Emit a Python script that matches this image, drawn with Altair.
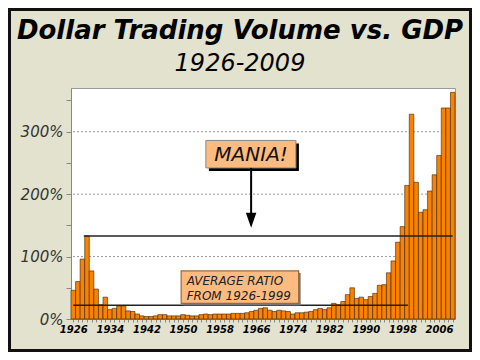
import altair as alt
import pandas as pd

# ---------------- data ----------------
years = list(range(1926, 2010))
ratio_pct = [
    46, 60, 96, 133, 77, 48, 23, 35, 15, 17,      # 1926-1935
    21, 21, 13, 12, 8, 5, 4, 4, 5, 7,             # 1936-1945
    7, 5, 5, 5, 7, 6, 5, 5, 7, 8,                 # 1946-1955
    7, 8, 8, 8, 8, 9, 9, 9, 10, 12,               # 1956-1965
    14, 17, 18, 14, 12, 14, 13, 12, 8, 10,        # 1966-1975
    10, 11, 12, 15, 17, 15, 18, 25, 23, 28,       # 1976-1985
    39, 50, 33, 35, 31, 36, 41, 54, 55, 74,       # 1986-1995
    93, 123, 148, 214, 328, 219, 171, 175, 205, 231,  # 1996-2005
    262, 338, 338, 363,                           # 2006-2009
]
y_tick_values = [0, 0.5, 1, 1.5, 2, 2.5, 3, 3.5]
grid_values = [1, 2, 3]
x_label_step = 8
title_text = "Dollar Trading Volume vs. GDP"
subtitle_text = "1926-2009"
avg_label = ["AVERAGE RATIO", "FROM 1926-1999"]
mania_label = "MANIA!"

# annotation levels / spans (data units)
AVG_LEVEL, AVG_START, AVG_END = 0.22, 1926.0, 1999.2
MANIA_LEVEL, MANIA_START, MANIA_END = 1.33, 1928.3, 2009.0

df = pd.DataFrame({"year": years, "ratio": [v / 100 for v in ratio_pct]})
df["x0"] = df["year"] - 0.5
df["x1"] = df["year"] + 0.5
df["base"] = 0.0

one = pd.DataFrame({"_": [0]})

FONT = "DejaVu Sans"
xscale = alt.Scale(domain=[1925.5, 2009.5], nice=False, zero=False)
yscale = alt.Scale(domain=[0, 3.7], nice=False)

xaxis = alt.Axis(
    values=years,
    labelExpr=f"(datum.value - 1926) % {x_label_step} == 0 ? '' + datum.value : ''",
    labelOverlap=False, title=None, grid=False,
)
yaxis = alt.Axis(
    values=y_tick_values,
    labelExpr="round(datum.value*100) % 100 == 0 ? round(datum.value*100) + '%' : ''",
    labelOverlap=False, title=None, grid=False,
)

def X(v):
    return alt.XDatum(v, scale=xscale, axis=xaxis)

def X2(v):
    return alt.X2Datum(v)

def Y(v):
    return alt.YDatum(v, scale=yscale, axis=yaxis)

def Y2(v):
    return alt.Y2Datum(v)

grid = alt.Chart(pd.DataFrame({"g": grid_values})).mark_rule(
    color="#999", strokeDash=[2, 2], strokeWidth=1
).encode(y=alt.Y("g:Q", scale=yscale, axis=yaxis))

bars = alt.Chart(df).mark_bar(
    color="#F98200", stroke="#3a2400", strokeWidth=0.6
).encode(
    x=alt.X("x0:Q", scale=xscale, axis=xaxis),
    x2="x1",
    y=alt.Y("ratio:Q", scale=yscale, axis=yaxis),
    y2="base",
)

def hline(level, x_start, x_end):
    return alt.Chart(one).mark_rule(color="#222", strokeWidth=1.5).encode(
        x=X(x_start), x2=X2(x_end), y=Y(level)
    )

avg_line = hline(AVG_LEVEL, AVG_START, AVG_END)
mania_line = hline(MANIA_LEVEL, MANIA_START, MANIA_END)

# average ratio box
avg_shadow = alt.Chart(one).mark_rect(
    color="#777", xOffset=2, x2Offset=2, yOffset=2, y2Offset=2
).encode(x=X(1949.6), x2=X2(1975.3), y=Y(0.77), y2=Y2(0.25))
avg_box = alt.Chart(one).mark_rect(
    color="#FDBB80", stroke="#9A6A3A", strokeWidth=1.2
).encode(x=X(1949.6), x2=X2(1975.3), y=Y(0.77), y2=Y2(0.25))
avg_text = alt.Chart(one).mark_text(
    text=avg_label, align="left", baseline="alphabetic", lineHeight=15,
    font=FONT, fontSize=12, fontStyle="italic", color="#222"
).encode(x=X(1950.8), y=Y(0.54))

# mania box
mania_shadow = alt.Chart(one).mark_rect(
    color="#000", xOffset=3, x2Offset=3, yOffset=3, y2Offset=3
).encode(x=X(1955.0), x2=X2(1974.7), y=Y(2.86), y2=Y2(2.42))
mania_box = alt.Chart(one).mark_rect(
    color="#FDBB80", stroke="#888", strokeWidth=1
).encode(x=X(1955.0), x2=X2(1974.7), y=Y(2.86), y2=Y2(2.42))
mania_text = alt.Chart(one).mark_text(
    text=mania_label, align="center", baseline="middle",
    font=FONT, fontSize=20, fontStyle="italic", color="#111"
).encode(x=X(1964.9), y=Y(2.63))

arrow_shaft = alt.Chart(one).mark_rule(color="#000", strokeWidth=2).encode(
    x=X(1964.9), y=Y(2.42), y2=Y2(1.62)
)
arrow_head = alt.Chart(one).mark_point(
    shape="M-0.7,-1L0.7,-1L0,1Z", filled=True, color="#000", opacity=1, size=225
).encode(x=X(1964.9), y=Y(1.58))

title = alt.Chart(one).mark_text(
    text=title_text, align="center", baseline="alphabetic",
    font=FONT, fontSize=26, fontWeight="bold", fontStyle="italic", color="#000"
).encode(x=alt.value(169), y=alt.value(-49))
subtitle = alt.Chart(one).mark_text(
    text=subtitle_text, align="center", baseline="alphabetic",
    font=FONT, fontSize=24, fontStyle="italic", color="#000"
).encode(x=alt.value(169), y=alt.value(-17))

frame = alt.Chart(one).mark_rect(
    filled=False, stroke="#111", strokeWidth=3
).encode(x=alt.value(-61.5), x2=alt.value(399.5), y=alt.value(-78.5), y2=alt.value(262.5))

chart = alt.layer(
    grid, bars, avg_line, mania_line,
    avg_shadow, avg_box, avg_text,
    mania_shadow, mania_box, mania_text,
    arrow_shaft, arrow_head, title, subtitle, frame,
).properties(
    width=384, height=231,
    padding={"left": 63, "top": 80, "right": 17, "bottom": 33},
    autosize=alt.AutoSizeParams(type="none"),
).configure(
    background="#E2E2CE",
).configure_view(
    fill="white", stroke="#999", strokeWidth=1,
).configure_axisX(
    labelFont=FONT, labelFontSize=10, labelFontWeight="bold", labelFontStyle="italic",
    labelColor="#000", labelPadding=2, tickSize=3, tickColor="#888", domainColor="#888",
).configure_axisY(
    labelFont=FONT, labelFontSize=15, labelFontStyle="italic", labelColor="#333",
    labelPadding=3, tickSize=5, tickColor="#888", domainColor="#888",
)

chart.save("out.html", embed_options={"renderer": "svg", "actions": False})
